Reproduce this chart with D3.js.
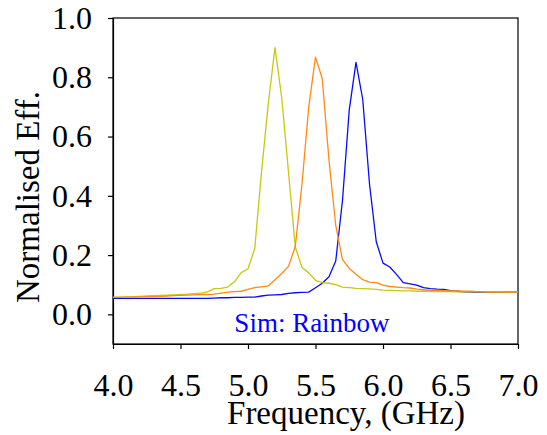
<!DOCTYPE html>
<html><head><meta charset="utf-8">
<script src="https://cdn.jsdelivr.net/npm/d3@7"></script>
<style>
html,body{margin:0;padding:0;background:#fff;}
svg{display:block;}
</style>
</head><body>
<script>
const freq = [4.00,4.05,4.10,4.15,4.20,4.25,4.30,4.35,4.40,4.45,4.50,4.55,4.60,4.65,4.70,4.75,4.80,4.85,4.90,4.95,
  5.00,5.05,5.10,5.15,5.20,5.25,5.30,5.35,5.40,5.45,5.50,5.55,5.60,5.65,5.70,5.75,5.80,5.85,5.90,5.95,
  6.00,6.05,6.10,6.15,6.20,6.25,6.30,6.35,6.40,6.45,6.50,6.55,6.60,6.65,6.70,6.75,6.80,6.85,6.90,6.95,7.00];
const yellowEff = [0.058,0.058,0.059,0.060,0.061,0.062,0.063,0.064,0.065,0.066,0.067,0.068,0.070,0.072,0.076,0.087,0.088,0.092,0.110,0.141,
  0.154,0.222,0.480,0.710,0.900,0.730,0.480,0.228,0.158,0.140,0.115,0.107,0.105,0.100,0.092,0.090,0.088,0.087,0.086,0.084,
  0.082,0.081,0.080,0.079,0.079,0.078,0.078,0.078,0.077,0.077,0.077,0.076,0.076,0.076,0.076,0.075,0.075,0.075,0.075,0.075,0.075];
const orangeEff = [0.057,0.057,0.058,0.058,0.059,0.060,0.060,0.061,0.062,0.063,0.064,0.065,0.066,0.067,0.067,0.068,0.072,0.075,0.077,0.078,
  0.084,0.090,0.093,0.096,0.117,0.138,0.162,0.228,0.440,0.700,0.868,0.795,0.520,0.300,0.185,0.155,0.135,0.117,0.109,0.107,
  0.099,0.094,0.092,0.090,0.089,0.085,0.083,0.081,0.081,0.080,0.079,0.079,0.078,0.078,0.077,0.077,0.076,0.076,0.075,0.075,0.075];
const blueEff = [0.054,0.054,0.054,0.054,0.054,0.054,0.054,0.054,0.054,0.054,0.054,0.054,0.054,0.054,0.054,0.055,0.056,0.056,0.057,0.057,
  0.058,0.058,0.062,0.065,0.066,0.067,0.071,0.073,0.074,0.075,0.090,0.105,0.127,0.180,0.385,0.690,0.850,0.725,0.440,0.245,
  0.173,0.160,0.135,0.107,0.103,0.099,0.090,0.087,0.085,0.084,0.080,0.078,0.076,0.075,0.074,0.074,0.074,0.074,0.075,0.075,0.075];
const xTicks = [4.0,4.5,5.0,5.5,6.0,6.5,7.0];
const yTicks = [0.0,0.2,0.4,0.6,0.8,1.0];
const seriesNames = ["blue","yellow","orange"];
const seriesColors = ["#0a0aff","#c8c810","#ff8a14"];
const seriesValues = [blueEff, yellowEff, orangeEff];

const W = 547, H = 435;
const L = 113, R = 518, T = 18, B = 344;
const font = "Liberation Serif";

const svg = d3.select("body").append("svg").attr("width", W).attr("height", H);
const x = d3.scaleLinear().domain([4.0, 7.0]).range([L, R]);
const y = d3.scaleLinear().domain([-0.1, 1.0]).range([B, T]);

// frame
svg.append("rect").attr("x", L).attr("y", T).attr("width", R - L).attr("height", B - T)
  .attr("fill", "none").attr("stroke", "#000").attr("stroke-width", 1.2);

// axes
const xAxis = svg.append("g").attr("transform", `translate(0,${B})`)
  .call(d3.axisBottom(x).tickValues(xTicks).tickFormat(d3.format(".1f")).tickSizeInner(5).tickSizeOuter(0).tickPadding(24));
const yAxis = svg.append("g").attr("transform", `translate(${L},0)`)
  .call(d3.axisLeft(y).tickValues(yTicks).tickFormat(d3.format(".1f")).tickSizeInner(5).tickSizeOuter(0).tickPadding(16));
[xAxis, yAxis].forEach(g => {
  g.attr("font-family", null).attr("font-size", null);
  g.select(".domain").attr("stroke", "#000").attr("stroke-width", 1.2);
  g.selectAll(".tick line").attr("stroke", "#000").attr("stroke-width", 1.2);
  g.selectAll(".tick text").attr("fill", "#000").attr("font-family", font).attr("font-size", 32);
});

// lines
const line = d3.line().x((d, i) => x(freq[i])).y(d => y(d));
seriesValues.forEach((vals, k) => {
  svg.append("path").datum(vals).attr("d", line)
    .attr("fill", "none").attr("stroke", seriesColors[k]).attr("stroke-width", 1.3)
    .attr("stroke-linejoin", "round");
});

// labels
svg.append("text").attr("x", 346).attr("y", 424).attr("text-anchor", "middle")
  .attr("font-family", font).attr("font-size", 33).attr("fill", "#000")
  .text("Frequency, (GHz)");
svg.append("text").attr("transform", "translate(39,197) rotate(-90)").attr("text-anchor", "middle")
  .attr("font-family", font).attr("font-size", 33).attr("fill", "#000")
  .text("Normalised Eff.");
svg.append("text").attr("x", 312).attr("y", 332).attr("text-anchor", "middle")
  .attr("font-family", font).attr("font-size", 27).attr("fill", "#0000ff")
  .text("Sim: Rainbow");
</script>
</body></html>
